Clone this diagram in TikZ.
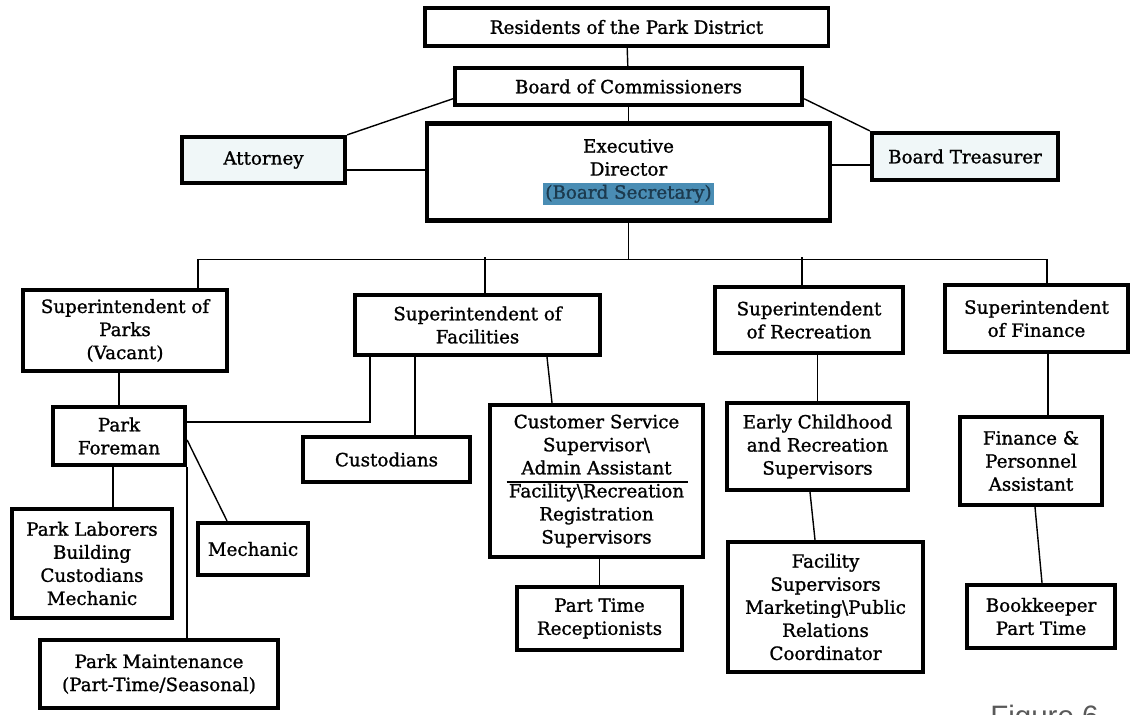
\documentclass[tikz,border=0pt]{standalone}
\usepackage{fontspec}
\setmainfont{DejaVu Serif}
\newfontfamily\chartface[BoldFont={DejaVu Serif}, BoldFeatures={FakeBold=1.2}]{DejaVu Serif}
\newfontfamily\figfont{Liberation Sans}
\usepackage{tikz}
\usetikzlibrary{positioning,calc}
\usepackage{xcolor}
\definecolor{boxfill}{HTML}{F0F7F8}
\definecolor{secblue}{HTML}{4A8DB4}
\definecolor{sectext}{HTML}{1C3A4E}
\newcommand{\chartfont}{\chartface\bfseries\fontsize{13}{16.4}\selectfont}

\begin{document}
\begin{tikzpicture}[x=0.025cm, y=-0.025cm,
  box/.style={draw, line width=2.2pt, align=center, inner sep=0pt, font=\chartfont},
  heavybox/.style={box, line width=3pt},
  conn/.style={line width=1pt},
]
  \useasboundingbox (0,0) rectangle (1130,715);

  % Top of the chart
  \node[box, minimum width=10.075cm, minimum height=0.95cm] (res) at (626.5,27) {Residents of the Park District};
  \node[heavybox, minimum width=8.675cm, minimum height=0.925cm] (boc) at (628.5,86.5) {Board of Commissioners};
  \node[heavybox, minimum width=10.075cm, minimum height=2.425cm] (ed) at (628.5,172) {Executive\\Director\\{\setlength{\fboxsep}{1.5pt}\colorbox{secblue}{\textcolor{sectext}{(Board Secretary)}}}};
  \node[heavybox, fill=boxfill, minimum width=4.075cm, minimum height=1.15cm] (att) at (263.5,160) {Attorney};
  \node[heavybox, fill=boxfill, minimum width=4.65cm, minimum height=1.175cm] (tre) at (965,156.5) {Board Treasurer};

  % Superintendents
  \node[heavybox, minimum width=5.1cm, minimum height=2.025cm] (parks) at (125,330.5) {Superintendent of\\Parks\\(Vacant)};
  \node[heavybox, minimum width=6.125cm, minimum height=1.5cm] (fac) at (477.5,325) {Superintendent of\\Facilities};
  \node[heavybox, minimum width=4.7cm, minimum height=1.65cm] (rec) at (809,320) {Superintendent\\of Recreation};
  \node[heavybox, minimum width=4.575cm, minimum height=1.675cm] (fin) at (1036.5,318.5) {Superintendent\\of Finance};

  % Parks
  \node[heavybox, minimum width=3.3cm, minimum height=1.45cm] (fore) at (119,436) {Park\\Foreman};
  \node[heavybox, minimum width=4.0cm, minimum height=2.725cm] (lab) at (92,563.5) {Park Laborers\\Building\\Custodians\\Mechanic};
  \node[heavybox, minimum width=2.75cm, minimum height=1.3cm] (mech) at (253,549) {Mechanic};
  \node[heavybox, minimum width=5.95cm, minimum height=1.7cm] (maint) at (159,674) {Park Maintenance\\(Part-Time/Seasonal)};

  % Facilities
  \node[heavybox, minimum width=4.175cm, minimum height=1.125cm] (cust) at (386.5,459.5) {Custodians};
  \node[heavybox, minimum width=5.325cm, minimum height=3.8cm] (csr) at (596.5,481) {Customer Service\\Supervisor\textbackslash\\Admin Assistant\\Facility\textbackslash Recreation\\Registration\\Supervisors};
  \node[heavybox, minimum width=4.125cm, minimum height=1.575cm] (pt) at (599.5,618.5) {Part Time\\Receptionists};

  % Recreation
  \node[heavybox, minimum width=4.525cm, minimum height=2.175cm] (early) at (817.5,446.5) {Early Childhood\\and Recreation\\Supervisors};
  \node[heavybox, minimum width=4.875cm, minimum height=3.25cm] (fsup) at (825.5,607) {Facility\\Supervisors\\Marketing\textbackslash Public\\Relations\\Coordinator};

  % Finance
  \node[heavybox, minimum width=3.55cm, minimum height=2.2cm] (fp) at (1031,461) {Finance \&\\Personnel\\Assistant};
  \node[heavybox, minimum width=3.7cm, minimum height=1.575cm] (book) at (1041,616.5) {Bookkeeper\\Part Time};

  \node[font=\figfont\fontsize{21}{21}\selectfont, text=black!65, anchor=north west, inner sep=0pt] (fig) at (990,705) {Figure 6};

  % Lines
  \draw[conn] (res) -- (boc);
  \draw[conn] (boc) -- (ed);
  \draw[conn] (boc.184) -- (att.north east);
  \draw[conn] (boc.356) -- (tre.north west);
  \draw[conn] ([yshift=-7pt]att.east) -- ([yshift=-7pt]att.east -| ed.west);
  \draw[conn] ([yshift=-6pt]tre.west) -- ([yshift=-6pt]tre.west -| ed.east);

  \coordinate (hub) at ($(ed.south)+(0,37)$);
  \draw[conn] (ed.south) -- (hub);
  \draw[conn] ($(parks.north)+(73,0)$) |- (hub) -| ($(fin.north)+(10.5,0)$);
  \draw[conn] ($(fac.north)+(7.5,0)$) -- ++(0,-36);
  \draw[conn] ($(rec.north)+(-7,0)$) -- ++(0,-28);

  \draw[conn] (fore.north) -- (fore.north |- parks.south);
  \draw[conn] ($(fac.south west)+(17,0)$) |- ($(fore.east)+(0,-14)$);
  \draw[conn] ($(fore.south)+(-6,0)$) -- ++(0,44);
  \draw[conn] ($(fore.east)+(0,4)$) -- ($(mech.north)+(-26,0)$);
  \draw[conn] (fore.south east) -- (fore.south east |- maint.north);

  \draw[conn] ($(cust.north)+(28.5,0)$) -- ++(0,-82);
  \draw[conn] ($(fac.south)+(69.5,0)$) -- ($(csr.north)+(-44.5,0)$);
  \draw[conn] ($(csr.center)+(-90,1)$) -- ($(csr.center)+(91,1)$);
  \draw[conn] (pt.north) -- (pt.north |- csr.south);

  \draw[conn] (early.north) -- (early.north |- rec.south);
  \draw[conn] ($(early.south)+(-7.5,0)$) -- ($(fsup.north)+(-10.5,0)$);

  \draw[conn] ($(fp.north)+(17,0)$) -- ++(0,-65);
  \draw[conn] ($(fp.south)+(4,0)$) -- ($(book.north)+(1,0)$);
\end{tikzpicture}
\end{document}
